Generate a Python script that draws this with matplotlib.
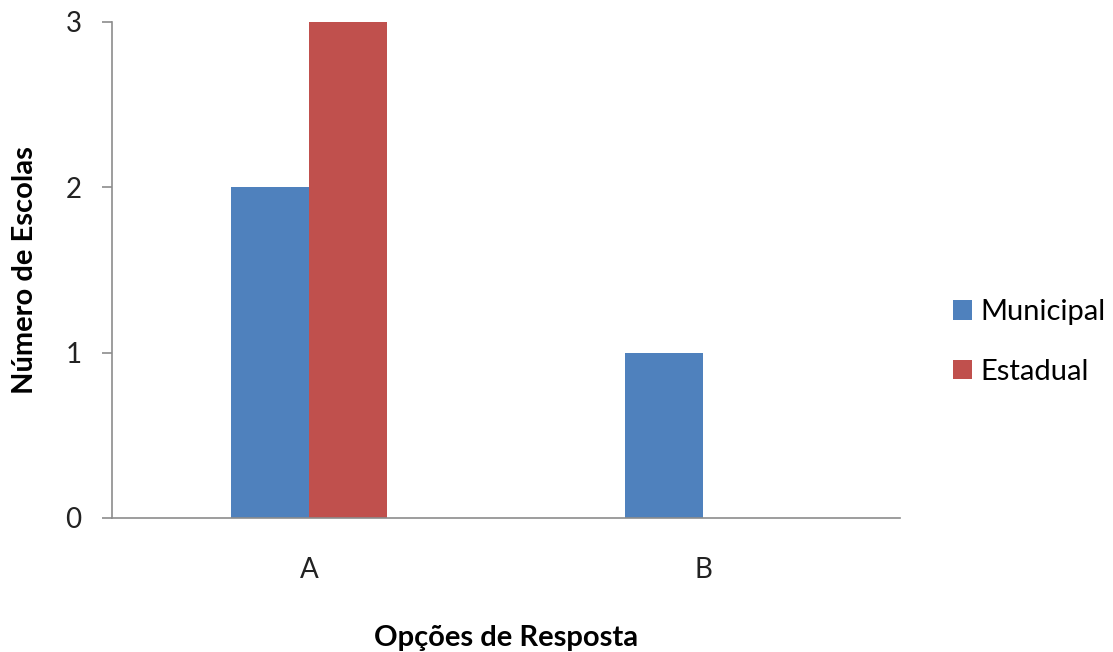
import matplotlib
matplotlib.use("Agg")
import matplotlib.pyplot as plt
import numpy as np

categories = ["A", "B"]
municipal = [2, 1]
estadual = [3, 0]
series_names = ["Municipal", "Estadual"]
colors = ["#4F81BD", "#C0504D"]
y_ticks = [0, 1, 2, 3]

plt.rcParams["font.family"] = ["Lato", "DejaVu Sans"]

fig = plt.figure(figsize=(11.13, 6.52), dpi=100)
ax = fig.add_axes([112 / 1113, 134 / 652, 788 / 1113, 496 / 652])

x = np.arange(len(categories))
w = 0.198
ax.bar(x - w / 2, municipal, w, color=colors[0], label=series_names[0])
ax.bar(x + w / 2, estadual, w, color=colors[1], label=series_names[1])

ax.set_xlim(-0.5, 1.5)
ax.set_ylim(0, 3)
ax.set_yticks(y_ticks)
ax.set_xticks(x)
ax.set_xticklabels(categories)

for s in ["top", "right"]:
    ax.spines[s].set_visible(False)
for s in ["left", "bottom"]:
    ax.spines[s].set_color("#8C8C8C")
    ax.spines[s].set_linewidth(1.2)

ax.tick_params(axis="y", length=7, width=1.2, color="#8C8C8C",
               labelsize=20, pad=15, labelcolor="#222222")
ax.tick_params(axis="x", length=0, labelsize=20, pad=28, labelcolor="#222222")

ax.set_xlabel("Opções de Resposta", fontsize=21, fontweight="bold", labelpad=30)
ax.set_ylabel("Número de Escolas", fontsize=21, fontweight="bold", labelpad=20)

ax.legend(loc="center left", bbox_to_anchor=(1.052, 0.355), frameon=False,
          fontsize=21, handlelength=0.65, handleheight=0.65, handletextpad=0.3,
          labelspacing=1.15, borderaxespad=0)

fig.savefig("out.png", dpi=100, facecolor="white")
